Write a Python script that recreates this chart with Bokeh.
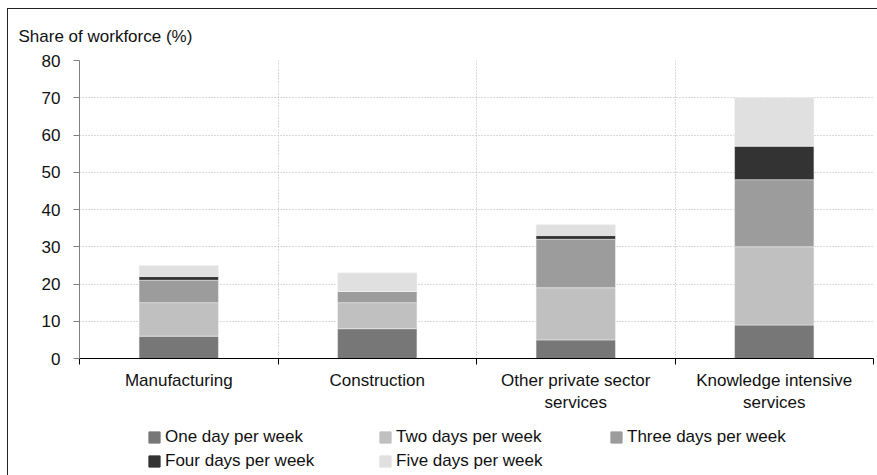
from bokeh.plotting import figure
from bokeh.layouts import column
from bokeh.models import (FixedTicker, Legend, LegendItem, Range1d, Title)
from bokeh.embed import file_html
from bokeh.resources import INLINE

categories = ["Manufacturing", "Construction", "Other private sector\nservices",
              "Knowledge intensive\nservices"]
series_names = ["One day per week", "Two days per week", "Three days per week",
                "Four days per week", "Five days per week"]
one_day = [6, 8, 5, 9]
two_days = [9, 7, 14, 21]
three_days = [6, 3, 13, 18]
four_days = [1, 0, 1, 9]
five_days = [3, 5, 3, 13]
y_ticks = [0, 10, 20, 30, 40, 50, 60, 70, 80]
colors = ["#777777", "#c0c0c0", "#9c9c9c", "#333333", "#e0e0e0"]

FONT = "Liberation Sans"

positions = list(range(1, len(categories) + 1))
keys = ["one", "two", "three", "four", "five"]
data = dict(x=positions, one=one_day, two=two_days, three=three_days,
            four=four_days, five=five_days)

p = figure(width=869, height=412, output_backend="svg", toolbar_location=None,
           x_range=Range1d(0.5, len(categories) + 0.5),
           y_range=Range1d(y_ticks[0], y_ticks[-1]),
           min_border_left=71, min_border_right=4, min_border_top=51,
           min_border_bottom=63)
p.outline_line_color = None
p.background_fill_color = "white"
p.border_fill_color = "white"

renderers = p.vbar_stack(keys, x="x", width=0.4, source=data, color=colors,
                         line_color="#f4f4f4", line_width=0.5)

# title
t = Title(text="Share of workforce (%)", align="left", offset=-61,
          vertical_align="top",
          text_font=FONT, text_font_size="17px", text_font_style="normal",
          text_color="#111111", standoff=26)
p.add_layout(t, "above")
p.title.visible = False

# y axis
p.yaxis.ticker = FixedTicker(ticks=y_ticks)
p.yaxis.axis_line_color = "#808080"
p.yaxis.major_tick_line_color = "#808080"
p.yaxis.major_tick_out = 6
p.yaxis.major_tick_in = 0
p.yaxis.minor_tick_line_color = None
p.yaxis.major_label_text_font = FONT
p.yaxis.major_label_text_font_size = "17px"
p.yaxis.major_label_text_color = "#111111"
p.yaxis.major_label_standoff = 13

# x axis
p.xaxis.ticker = FixedTicker(ticks=positions,
                             minor_ticks=[pp - 0.5 for pp in positions] + [positions[-1] + 0.5])
p.xaxis.major_label_overrides = {pp: c for pp, c in zip(positions, categories)}
p.xaxis.axis_line_color = "#000000"
p.xaxis.major_tick_line_color = None
p.xaxis.major_tick_out = 0
p.xaxis.major_tick_in = 0
p.xaxis.minor_tick_line_color = "#000000"
p.xaxis.minor_tick_out = 6
p.xaxis.minor_tick_in = 0
p.xaxis.major_label_text_font = FONT
p.xaxis.major_label_text_font_size = "17px"
p.xaxis.major_label_text_color = "#111111"
p.xaxis.major_label_standoff = 6

# grids
p.ygrid.ticker = FixedTicker(ticks=y_ticks)
p.ygrid.grid_line_color = "#b4b4b4"
p.ygrid.grid_line_dash = "1 2"
p.ygrid.grid_line_width = 1
p.xgrid.ticker = FixedTicker(ticks=[pp + 0.5 for pp in positions])
p.xgrid.grid_line_color = "#b4b4b4"
p.xgrid.grid_line_dash = "1 2"
p.xgrid.grid_line_width = 1

# legend figure (legend swatches only; the dummy bars have zero size)
lg = figure(width=869, height=54, output_backend="svg", toolbar_location=None,
            x_range=Range1d(0, 1), y_range=Range1d(0, 1),
            min_border_left=0, min_border_right=0, min_border_top=0,
            min_border_bottom=0)
lg.axis.visible = False
lg.grid.visible = False
lg.outline_line_color = None
lg.background_fill_color = "white"
lg.border_fill_color = "white"
dummies = [lg.vbar(x=[0], top=[0], bottom=[0], width=0, color=c) for c in colors]
items = [LegendItem(label=n, renderers=[r], index=0)
         for n, r in zip(series_names, dummies)]
legend = Legend(items=items, orientation="horizontal", ncols=3,
                location=(68, 4), glyph_width=14, glyph_height=14,
                label_standoff=4, label_width=209, label_height=19, spacing=4,
                padding=0, margin=0, border_line_color=None,
                background_fill_alpha=0,
                label_text_font=FONT, label_text_font_size="17px",
                label_text_color="#111111")
lg.add_layout(legend, "center")

layout = column(p, lg, spacing=0,
                styles={"margin-left": "7px", "margin-top": "8px",
                        "border-left": "1px solid #222",
                        "border-top": "1px solid #222"})

open("out.html", "w").write(file_html(layout, INLINE))
